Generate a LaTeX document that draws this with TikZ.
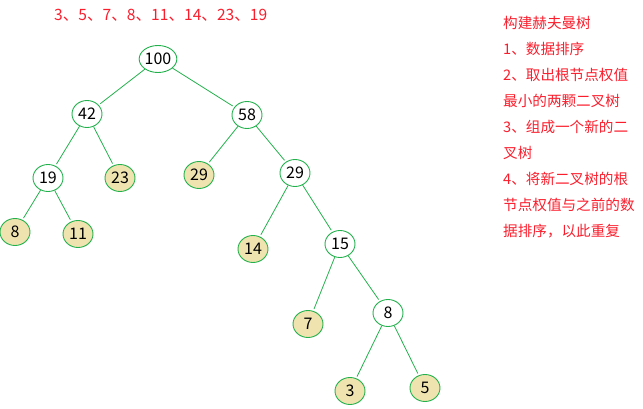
\documentclass[tikz,border=0pt]{standalone}
\usepackage{fontspec}
\setmainfont{Noto Sans CJK SC}
\usetikzlibrary{shapes.geometric}
\definecolor{edgegreen}{RGB}{34,177,76}
\definecolor{leaffill}{RGB}{239,228,176}
\definecolor{txtred}{RGB}{250,30,45}
\tikzset{
  tnode/.style={ellipse,draw=edgegreen,line width=0.9pt,minimum width=30pt,minimum height=27pt,inner sep=0pt,font=\fontsize{16pt}{16pt}\selectfont,fill=white},
  leaf/.style={tnode,fill=leaffill},
  edge/.style={draw=edgegreen,line width=0.8pt,shorten >=2pt},
  redtxt/.style={text=txtred,font=\fontsize{14.6pt}{14.6pt}\selectfont,anchor=west,inner sep=0pt}
}
\begin{document}
\begin{tikzpicture}[x=1pt,y=-1pt]
\useasboundingbox (0,0) rectangle (643,409);
\node[text=txtred,font=\fontsize{15.6pt}{15.6pt}\selectfont,anchor=west,inner sep=0pt] (seq) at (54,15) {3、5、7、8、11、14、23、19};
\node[tnode] (n100) at (158,59) {100};
\node[tnode] (n42) at (87,114) {42};
\node[tnode] (n58) at (247,115) {58};
\node[tnode] (n19) at (48,178) {19};
\node[leaf] (n23) at (120,178) {23};
\node[leaf] (n29a) at (199,175) {29};
\node[tnode] (n29b) at (295,173) {29};
\node[leaf] (n8a) at (15,232) {8};
\node[leaf] (n11) at (78,234) {11};
\node[leaf] (n14) at (253,249) {14};
\node[tnode] (n15) at (340,244) {15};
\node[leaf] (n7) at (308,324) {7};
\node[tnode] (n8b) at (388,313) {8};
\node[leaf] (n3) at (350,391) {3};
\node[leaf] (n5) at (425,388) {5};
\foreach \a/\b in {n100/n42,n100/n58,n42/n19,n42/n23,n58/n29a,n58/n29b,n19/n8a,n19/n11,n29b/n14,n29b/n15,n15/n7,n15/n8b,n8b/n3,n8b/n5}
  \draw[edge] (\a) -- (\b);
\node[redtxt] (t1) at (503,23) {构建赫夫曼树};
\node[redtxt] (t2) at (503,49) {1、数据排序};
\node[redtxt] (t3) at (503,75) {2、取出根节点权值};
\node[redtxt] (t4) at (503,101) {最小的两颗二叉树};
\node[redtxt] (t5) at (503,127) {3、组成一个新的二};
\node[redtxt] (t6) at (503,153) {叉树};
\node[redtxt] (t7) at (503,179) {4、将新二叉树的根};
\node[redtxt] (t8) at (503,205) {节点权值与之前的数};
\node[redtxt] (t9) at (503,231) {据排序，以此重复};
\end{tikzpicture}
\end{document}
